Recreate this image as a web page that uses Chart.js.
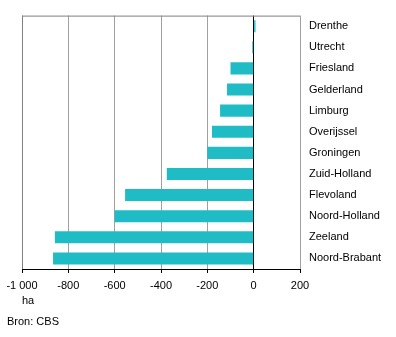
<!DOCTYPE html>
<html>
<head>
<meta charset="utf-8">
<script src="https://cdn.jsdelivr.net/npm/chart.js@4"></script>
<style>
  body { margin: 0; background: #fff; }
  #wrap { position: relative; width: 396px; height: 337px; }
</style>
</head>
<body>
<div id="wrap"><canvas id="chart" width="396" height="337"></canvas></div>
<script>
const provinces = ["Drenthe", "Utrecht", "Friesland", "Gelderland", "Limburg", "Overijssel",
  "Groningen", "Zuid-Holland", "Flevoland", "Noord-Holland", "Zeeland", "Noord-Brabant"];
const change = [8, -6, -100, -115, -145, -180, -200, -375, -555, -600, -858, -866];
const xTicks = [-1000, -800, -600, -400, -200, 0, 200];

const FONT = { family: "'Liberation Sans', Arial, sans-serif", size: 11 };

// top border of the plot area plus the footnotes
const extras = {
  id: "extras",
  afterDraw(chart) {
    const { ctx, chartArea } = chart;
    ctx.save();
    ctx.strokeStyle = "#808080";
    ctx.lineWidth = 1;
    ctx.beginPath();
    ctx.moveTo(chartArea.left, chartArea.top + 0.5);
    ctx.lineTo(chartArea.right, chartArea.top + 0.5);
    ctx.stroke();
    ctx.fillStyle = "#000";
    ctx.font = "11px 'Liberation Sans', Arial, sans-serif";
    ctx.textBaseline = "middle";
    ctx.fillText("ha", 22, 301);
    ctx.fillText("Bron: CBS", 7, 322);
    ctx.restore();
  }
};

new Chart(document.getElementById("chart"), {
  type: "bar",
  data: {
    labels: provinces,
    datasets: [{
      data: change,
      backgroundColor: "#1fbcc6",
      borderWidth: 0,
      categoryPercentage: 1,
      barPercentage: 0.57
    }]
  },
  options: {
    indexAxis: "y",
    responsive: false,
    animation: false,
    layout: { padding: { top: 15, left: 22, right: 0, bottom: 0 } },
    plugins: { legend: { display: false }, tooltip: { enabled: false } },
    scales: {
      x: {
        min: -1000,
        max: 200,
        afterBuildTicks(axis) { axis.ticks = xTicks.map(v => ({ value: v })); },
        afterFit(axis) { axis.height = 68; },
        grid: {
          color: ctx => ctx.tick && ctx.tick.value === 0 ? "#000" : (ctx.tick && (ctx.tick.value === -1000) ? "#808080" : "#a0a0a0"),
          tickColor: "#000",
          tickLength: 4,
          lineWidth: 1
        },
        border: { color: "#000", width: 1 },
        ticks: {
          color: "#000",
          font: FONT,
          padding: 6,
          maxRotation: 0,
          callback: v => {
            const s = Math.abs(v).toString().replace(/\B(?=(\d{3})+(?!\d))/g, " ");
            return (v < 0 ? "-" : "") + s;
          }
        }
      },
      y: {
        position: "right",
        afterFit(axis) { axis.width = 96; },
        grid: { display: false, drawTicks: false },
        border: { display: false },
        ticks: { color: "#000", font: FONT, padding: 9 }
      }
    }
  },
  plugins: [extras]
});
</script>
</body>
</html>
